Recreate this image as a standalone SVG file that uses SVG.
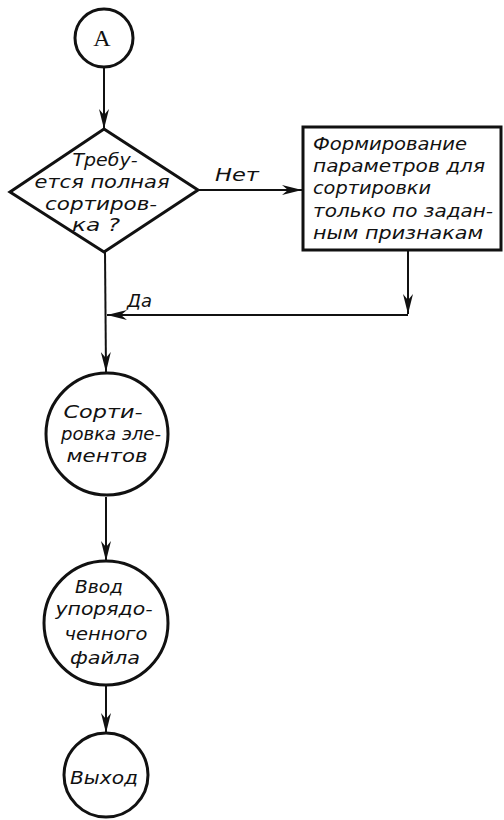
<svg xmlns="http://www.w3.org/2000/svg" width="504" height="820" viewBox="0 0 504 820">
  <style>
    .shape { fill: #fff; stroke: #111; stroke-width: 3; }
    .edge { fill: none; stroke: #111; stroke-width: 2; }
    .lbl { font-family: "DejaVu Sans", "Liberation Sans", sans-serif; font-style: italic; font-size: 18px; fill: #111; }
    .mid { text-anchor: middle; }
  </style>
  <defs>
    <marker id="arr" viewBox="0 0 20 10" refX="20" refY="5" markerWidth="20" markerHeight="10" markerUnits="userSpaceOnUse" orient="auto">
      <path d="M0,0 L20,5 L0,10 L6,5 Z" fill="#111"/>
    </marker>
  </defs>
  <rect width="504" height="820" fill="#fff"/>

  <g id="connectors">
    <line class="edge" x1="104" y1="67" x2="104" y2="129" marker-end="url(#arr)"/>
    <line class="edge" x1="198" y1="190" x2="302" y2="190" marker-end="url(#arr)"/>
    <line class="edge" x1="408" y1="250" x2="408" y2="314" marker-end="url(#arr)"/>
    <line class="edge" x1="408" y1="315" x2="107" y2="315" marker-end="url(#arr)"/>
    <line class="edge" x1="105" y1="252" x2="106" y2="372" marker-end="url(#arr)"/>
    <line class="edge" x1="106" y1="497" x2="106" y2="561" marker-end="url(#arr)"/>
    <line class="edge" x1="106" y1="685" x2="106" y2="733" marker-end="url(#arr)"/>
    <text class="lbl" x="215" y="181" textLength="44" lengthAdjust="spacingAndGlyphs">Нет</text>
    <text class="lbl" x="127" y="307" textLength="25" lengthAdjust="spacingAndGlyphs">Да</text>
  </g>

  <g id="start">
    <circle class="shape" cx="104" cy="38" r="29"/>
    <text x="102" y="46" class="mid" font-family="Liberation Serif, serif" font-size="24" fill="#111">A</text>
  </g>

  <g id="decision">
    <polygon class="shape" points="104,129 198,190 104,252 10,192"/>
    <text class="lbl mid" x="105" y="166" textLength="65" lengthAdjust="spacingAndGlyphs">Требу-</text>
    <text class="lbl mid" x="102" y="188" textLength="135" lengthAdjust="spacingAndGlyphs">ется полная</text>
    <text class="lbl mid" x="101" y="210" textLength="112" lengthAdjust="spacingAndGlyphs">сортиров-</text>
    <text class="lbl mid" x="96" y="231" textLength="48" lengthAdjust="spacingAndGlyphs">ка ?</text>
  </g>

  <g id="params">
    <rect class="shape" x="303" y="127" width="198" height="123"/>
    <text class="lbl" x="313" y="150" textLength="154" lengthAdjust="spacingAndGlyphs">Формирование</text>
    <text class="lbl" x="313" y="172" textLength="172" lengthAdjust="spacingAndGlyphs">параметров для</text>
    <text class="lbl" x="313" y="194" textLength="118" lengthAdjust="spacingAndGlyphs">сортировки</text>
    <text class="lbl" x="313" y="217" textLength="180" lengthAdjust="spacingAndGlyphs">только по задан-</text>
    <text class="lbl" x="313" y="239" textLength="170" lengthAdjust="spacingAndGlyphs">ным признакам</text>
  </g>

  <g id="sort">
    <circle class="shape" cx="107" cy="434" r="61"/>
    <text class="lbl mid" x="103" y="418" textLength="79" lengthAdjust="spacingAndGlyphs">Сорти-</text>
    <text class="lbl mid" x="111" y="440" textLength="100" lengthAdjust="spacingAndGlyphs">ровка эле-</text>
    <text class="lbl mid" x="107" y="462" textLength="81" lengthAdjust="spacingAndGlyphs">ментов</text>
  </g>

  <g id="input">
    <circle class="shape" cx="106" cy="623" r="62"/>
    <text class="lbl mid" x="99" y="593" textLength="48" lengthAdjust="spacingAndGlyphs">Ввод</text>
    <text class="lbl mid" x="104" y="615" textLength="97" lengthAdjust="spacingAndGlyphs">упорядо-</text>
    <text class="lbl mid" x="106" y="640" textLength="83" lengthAdjust="spacingAndGlyphs">ченного</text>
    <text class="lbl mid" x="105" y="664" textLength="70" lengthAdjust="spacingAndGlyphs">файла</text>
  </g>

  <g id="exit">
    <circle class="shape" cx="106" cy="775" r="42"/>
    <text class="lbl mid" x="104" y="784" textLength="68" lengthAdjust="spacingAndGlyphs">Выход</text>
  </g>
</svg>
